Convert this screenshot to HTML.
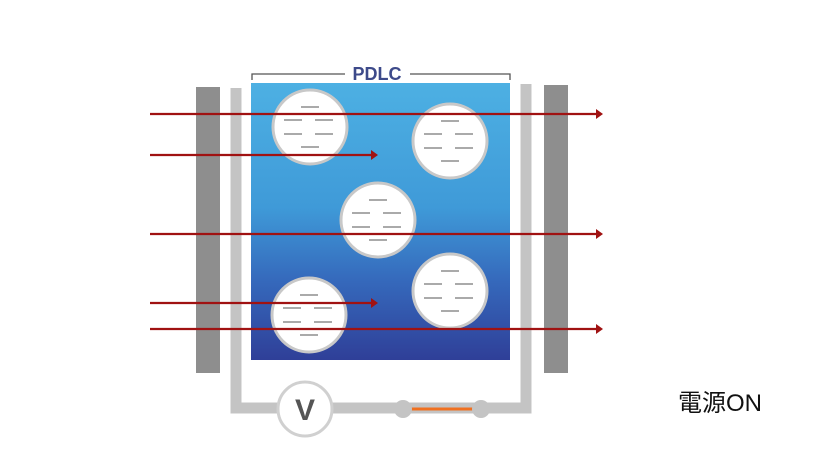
<!DOCTYPE html>
<html><head><meta charset="utf-8"><style>
body{margin:0;width:820px;height:460px;background:#fff;overflow:hidden}
</style></head><body>
<svg width="820" height="460" xmlns="http://www.w3.org/2000/svg">
<defs>
<linearGradient id="g" x1="0" y1="0" x2="0" y2="1">
<stop offset="0" stop-color="#4db0e3"/>
<stop offset="0.45" stop-color="#3f9ad8"/>
<stop offset="0.72" stop-color="#3568bb"/>
<stop offset="1" stop-color="#2f3f98"/>
</linearGradient>
<g id="c">
<circle r="37" fill="#fff" stroke="#c8c8c8" stroke-width="3"/>
<g stroke="#aaa" stroke-width="2">
<line x1="-9" y1="-20" x2="9" y2="-20"/>
<line x1="-26" y1="-7" x2="-8" y2="-7"/><line x1="5" y1="-7" x2="23" y2="-7"/>
<line x1="-26" y1="7" x2="-8" y2="7"/><line x1="5" y1="7" x2="23" y2="7"/>
<line x1="-9" y1="20" x2="9" y2="20"/>
</g></g>
</defs>
<rect x="196" y="87" width="24" height="286" fill="#8e8e8e"/>
<rect x="544" y="85" width="24" height="288" fill="#8e8e8e"/>
<path d="M236 88 V408 H526 V84" fill="none" stroke="#c4c4c4" stroke-width="11"/>
<rect x="251" y="83" width="259" height="277" fill="url(#g)"/>
<path d="M252 80 V74 H345 M410 74 H510 V80" fill="none" stroke="#555" stroke-width="1.3"/>
<text x="377" y="80" text-anchor="middle" font-family="Liberation Sans, sans-serif" font-weight="bold" font-size="18" fill="#3d4a8a">PDLC</text>
<use href="#c" x="310" y="127"/>
<use href="#c" x="450" y="141"/>
<use href="#c" x="378" y="220"/>
<use href="#c" x="450" y="291"/>
<use href="#c" x="309" y="315"/>
<g stroke="#a01212" stroke-width="2.2" fill="#a01212">
<line x1="150" y1="114" x2="597" y2="114"/><path d="M596 109 L603 114 L596 119Z" stroke="none"/>
<line x1="150" y1="155" x2="372" y2="155"/><path d="M371 150 L378 155 L371 160Z" stroke="none"/>
<line x1="150" y1="234" x2="597" y2="234"/><path d="M596 229 L603 234 L596 239Z" stroke="none"/>
<line x1="150" y1="303" x2="372" y2="303"/><path d="M371 298 L378 303 L371 308Z" stroke="none"/>
<line x1="150" y1="329" x2="597" y2="329"/><path d="M596 324 L603 329 L596 334Z" stroke="none"/>
</g>
<circle cx="305" cy="409" r="27" fill="#fff" stroke="#d0d0d0" stroke-width="3"/>
<text x="305" y="420" text-anchor="middle" font-family="Liberation Sans, sans-serif" font-weight="bold" font-size="30" fill="#555">V</text>
<line x1="403" y1="409" x2="481" y2="409" stroke="#f07020" stroke-width="3"/>
<circle cx="403" cy="409" r="9" fill="#c4c4c4"/>
<circle cx="481" cy="409" r="9" fill="#c4c4c4"/>
<text x="678" y="411" font-family="Liberation Sans, 'Noto Sans CJK JP', sans-serif" font-size="24" fill="#111">電源ON</text>
</svg>
</body></html>
